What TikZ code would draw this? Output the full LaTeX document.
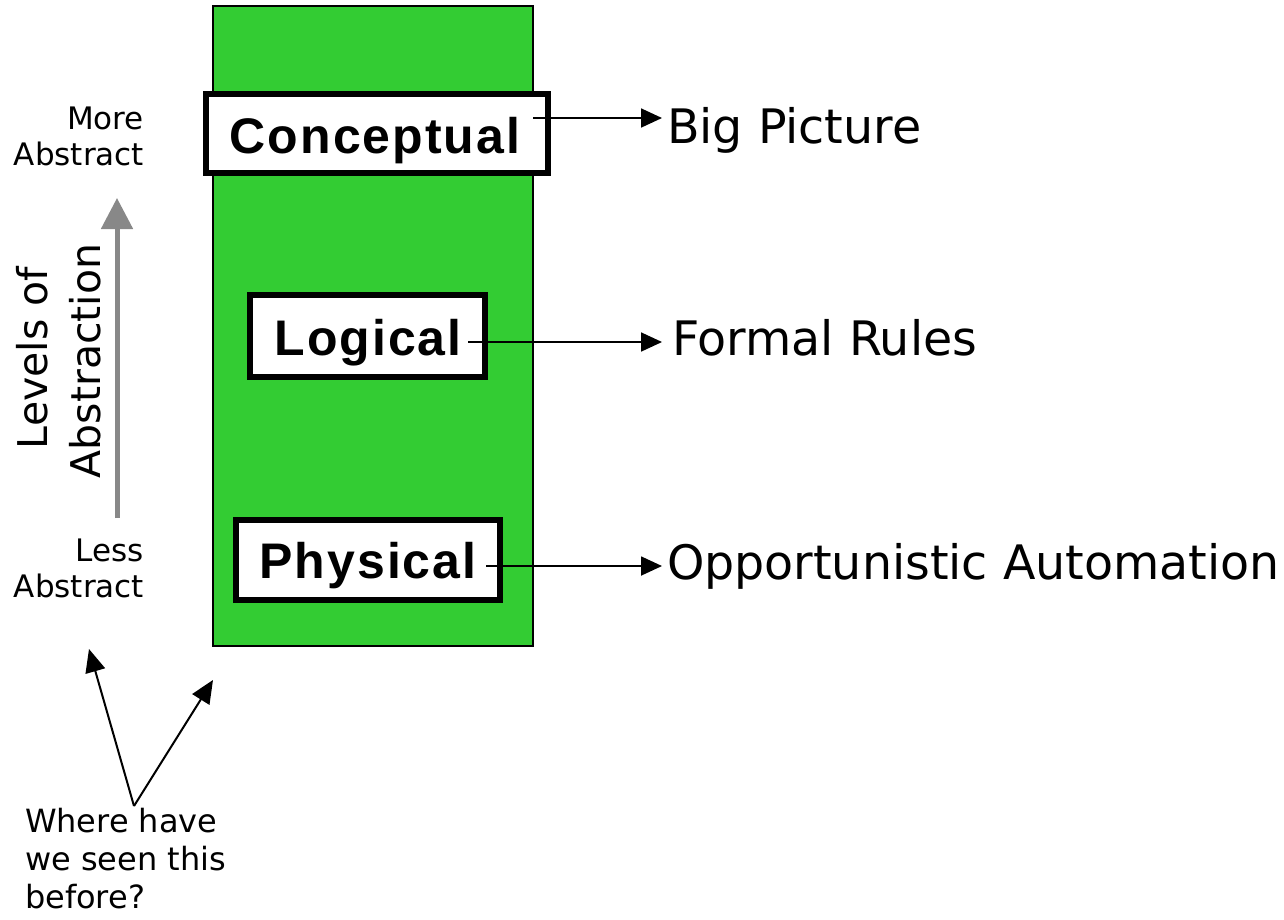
\documentclass[tikz,border=0pt]{standalone}
\usepackage{fontspec}
\setmainfont{DejaVu Sans}
\newfontfamily\boldfam[LetterSpace=4]{Liberation Sans}
\usetikzlibrary{arrows.meta}
\definecolor{boxgreen}{HTML}{33CC33}
\definecolor{arrgray}{HTML}{888888}
\tikzset{
  lvlbox/.style={draw=black, line width=6pt, fill=white, inner sep=0pt, outer sep=0pt},
  boldlbl/.style={font=\boldfam\bfseries\fontsize{50}{60}\selectfont, inner sep=0pt, outer sep=0pt},
  biglbl/.style={font=\fontsize{47.5}{56}\selectfont, inner sep=0pt, outer sep=0pt},
  smalllbl/.style={font=\fontsize{31}{36}\selectfont, inner sep=0pt, outer sep=0pt},
  qlbl/.style={font=\fontsize{32}{37.5}\selectfont, inner sep=0pt, outer sep=0pt},
  sidelbl/.style={font=\fontsize{41}{53}\selectfont, inner sep=0pt, outer sep=0pt},
  conn/.style={draw=black, line width=1.8pt, -{Triangle[length=21pt,width=19pt]}},
  ptr/.style={draw=black, line width=2pt, -{Triangle[length=23pt,width=20pt]}},
  grayarr/.style={draw=arrgray, line width=5pt, -{Triangle[length=31pt,width=31pt]}},
}
\begin{document}
\begin{tikzpicture}[x=1pt,y=-1pt]
\useasboundingbox (0,0) rectangle (1284,919);
% green column
\node[draw=black, line width=1.2pt, fill=boxgreen, minimum width=320pt, minimum height=640pt, inner sep=0pt, outer sep=0pt] (col) at (373,326) {};
% level boxes
\node[lvlbox, minimum width=342pt, minimum height=79pt] (conc) at (377,133.5) {};
\node[boldlbl, anchor=base] (conct) at (375,153) {Conceptual};
\node[lvlbox, minimum width=235pt, minimum height=82pt] (logi) at (367.5,336) {};
\node[boldlbl, anchor=base] (logit) at (368,355) {Logical};
\node[lvlbox, minimum width=264pt, minimum height=80pt] (phys) at (368,560) {};
\node[boldlbl, anchor=base] (physt) at (368,578) {Physical};
% right labels
\node[biglbl, anchor=base west] (bigp) at (667,143) {Big Picture};
\node[biglbl, anchor=base west] (form) at (672,355) {Formal Rules};
\node[biglbl, anchor=base west] (oppo) at (667,579) {Opportunistic Automation};
% connector start points
\coordinate (cs) at (533,118);
\coordinate (ls) at (468,342);
\coordinate (ps) at (486,566);
\coordinate (ce) at (662,118);
\coordinate (le) at (662,342);
\coordinate (pe) at (662,566);
\draw[conn] (cs) -- (ce);
\draw[conn] (ls) -- (le);
\draw[conn] (ps) -- (pe);
% left side
\node[smalllbl, anchor=base east, align=right] (more) at (144,129) {More};
\node[smalllbl, anchor=base east, align=right] (moreab) at (144,165) {Abstract};
\node[smalllbl, anchor=base east, align=right] (less) at (144,561) {Less};
\node[smalllbl, anchor=base east, align=right] (lessab) at (144,597) {Abstract};
\coordinate (gb) at (117,518);
\coordinate (gt) at (117,198);
\draw[grayarr] (gb) -- (gt);
\node[sidelbl, rotate=90, anchor=base] (lev) at (47,358) {Levels of};
\node[sidelbl, rotate=90, anchor=base] (abs) at (100,361) {Abstraction};
% question
\node[qlbl, anchor=base west] (q1) at (25,832) {Where have};
\node[qlbl, anchor=base west] (q2) at (25,870) {we seen this};
\node[qlbl, anchor=base west] (q3) at (25,908) {before?};
\coordinate (qv) at (134,806);
\coordinate (qa) at (89,649);
\coordinate (qb) at (213,680);
\draw[ptr] (qv) -- (qa);
\draw[ptr] (qv) -- (qb);
\end{tikzpicture}
\end{document}
